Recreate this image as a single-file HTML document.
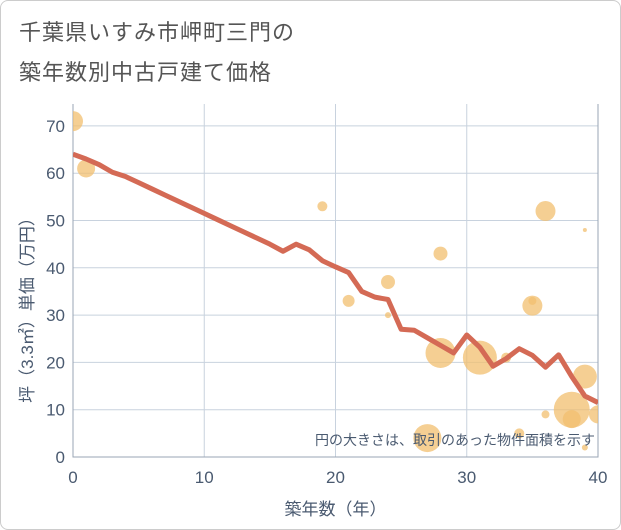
<!DOCTYPE html>
<html><head><meta charset="utf-8"><style>
body{margin:0;background:#fff;font-family:"Liberation Sans","Noto Sans CJK JP",sans-serif;}
#wrap{position:absolute;left:0;top:0;width:619px;height:528px;border:1px solid #ccc;border-radius:8px;overflow:hidden}
.t{position:absolute;left:18px;font-size:22px;color:#555;letter-spacing:1px}
</style></head><body>
<div id="wrap">
<div class="t" style="top:14px">千葉県いすみ市岬町三門の</div>
<div class="t" style="top:54px">築年数別中古戸建て価格</div>
<svg id="c" width="621" height="530" style="position:absolute;left:0;top:0"><defs><clipPath id="pc"><rect x="72" y="103" width="525" height="353"/></clipPath></defs></svg>
</div>
<script>
const lineYears=[0,1,2,3,4,5,6,7,8,9,10,11,12,13,14,15,16,17,18,19,20,21,22,23,24,25,26,27,28,29,30,31,32,33,34,35,36,37,38,39,40];
const lineValues=[64,63,61.8,60.2,59.3,58,56.7,55.4,54.1,52.8,51.5,50.2,48.9,47.6,46.3,45,43.5,45,43.8,41.5,40.2,39,35,33.8,33.3,27,26.8,25.2,23.6,22,25.8,23.2,19.2,20.8,22.9,21.5,19,21.6,17,12.9,11.5];
const bubbleYears=[0,1,19,21,24,24,28,28,31,27,34,35,35,36,36,39,39,38,38,40,39,33];
const bubbleValues=[71,61,53,33,37,30,43,22,21,4,5,32,33,52,9,48,17,10,8,9,2,21];
const bubbleSizes=[10,9,5,6,7,3,7,15,17,14,5,10,4,10,4,2,12,18,9,9,3,5];
const xTicks=[0,10,20,30,40];
const yTicks=[0,10,20,30,40,50,60,70];
const NS="http://www.w3.org/2000/svg";
const svg=document.getElementById('c');
const X0=72,X1=597,Y0=456,YT=103;
const sx=v=>X0+(X1-X0)*v/40;
const sy=v=>Y0-4.73*v;
function mk(t,a){const e=document.createElementNS(NS,t);for(const k in a)e.setAttribute(k,a[k]);svg.appendChild(e);return e;}
for(const t of xTicks){const g=mk('line',{x1:sx(t),x2:sx(t),y1:YT,y2:Y0,stroke:'#c8d2de','stroke-width':1});


const l=mk('text',{x:sx(t),y:482,'text-anchor':'middle','font-size':17,fill:'#4a5a70'});l.textContent=t;

}
for(const t of yTicks){const g=mk('line',{x1:X0,x2:X1,y1:sy(t),y2:sy(t),stroke:'#c8d2de','stroke-width':1});


const l=mk('text',{x:64,y:sy(t)+6,'text-anchor':'end','font-size':17,fill:'#4a5a70'});l.textContent=t;

}
const ax=mk('path',{d:`M${X0} ${YT}V${Y0}H${X1}V${YT}`,fill:'none',stroke:'#9aa5b4','stroke-width':1});


bubbleYears.forEach((y,i)=>{const c=mk('circle',{cx:sx(y),cy:sy(bubbleValues[i]),r:bubbleSizes[i],fill:'#f2bf6f','fill-opacity':0.75,'clip-path':'url(#pc)'});

});
const p=mk('polyline',{points:lineYears.map((y,i)=>sx(y)+','+sy(lineValues[i])).join(' '),fill:'none',stroke:'#d46a55','stroke-width':5,'stroke-linejoin':'round','clip-path':'url(#pc)'});


const n=mk('text',{x:594,y:444,'text-anchor':'end','font-size':14,fill:'#4a5a70'});n.textContent='円の大きさは、取引のあった物件面積を示す';


const xt=mk('text',{x:sx(20),y:514,'text-anchor':'middle','font-size':17,fill:'#4a5a70'});xt.textContent='築年数（年）';


const yt=mk('text',{x:0,y:0,'text-anchor':'middle','font-size':17,fill:'#4a5a70',transform:'translate(32,305) rotate(-90)'});yt.textContent='坪（3.3㎡）単価（万円）';


</script>
</body></html>
